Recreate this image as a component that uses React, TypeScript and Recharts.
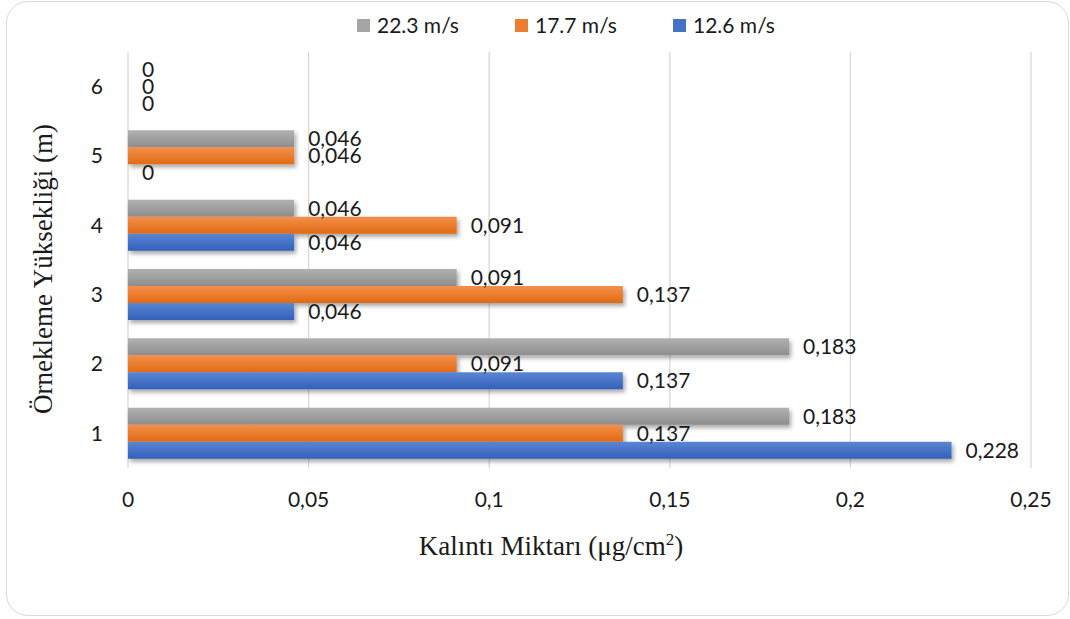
import React from 'react';
import { BarChart, Bar, XAxis, YAxis, CartesianGrid, LabelList } from 'recharts';

const heights = ['6', '5', '4', '3', '2', '1'];
const s223 = [0, 0.046, 0.046, 0.091, 0.183, 0.183];
const s177 = [0, 0.046, 0.091, 0.137, 0.091, 0.137];
const s126 = [0, 0, 0.046, 0.046, 0.137, 0.228];
const xTicks = [0, 0.05, 0.1, 0.15, 0.2, 0.25];

const seriesNames = ['22.3 m/s', '17.7 m/s', '12.6 m/s'];
const legendColors = ['#a5a5a5', '#ed7d31', '#4472c4'];

const data = heights.map((h, i) => ({ h, a: s223[i], b: s177[i], c: s126[i] }));

const comma = (v: any) => String(v).replace('.', ',');
const FONT = 'Lato, "Open Sans", sans-serif';
const SERIF = '"Liberation Serif", "Times New Roman", serif';
const TXT = '#1a1a1a';

const renderLabel = (props: any) => {
  const { x, y, width, height, value } = props;
  const w = Number(value) === 0 ? 0 : Number(width || 0);
  const xx = Number(x) + w + 14;
  const yy = Number(y) + Number(height || 0) / 2;
  return (
    <text x={xx} y={yy} dy="0.36em" textAnchor="start" fontFamily={FONT} fontSize={21} fill={TXT}>
      {comma(value)}
    </text>
  );
};

export default function App() {
  return (
    <div style={{ position: 'absolute', left: 0, top: 0, width: 1070, height: 619, background: '#fff', overflow: 'hidden' }}>
      <div style={{ position: 'absolute', left: 6, top: 1, width: 1061, height: 613, border: '1.5px solid #d9d9d9', borderRadius: 22 }} />
      <div style={{ position: 'absolute', left: 357, top: 12, display: 'flex', fontFamily: FONT, fontSize: 21, color: TXT, lineHeight: '26px' }}>
        {seriesNames.map((n, i) => (
          <div key={n} style={{ width: 158, display: 'flex', alignItems: 'center' }}>
            <span style={{ display: 'inline-block', width: 13, height: 13, background: legendColors[i], marginRight: 7 }} />
            <span>{n}</span>
          </div>
        ))}
      </div>
      <div style={{ position: 'absolute', left: 0, top: 0 }}>
        <BarChart
          width={1070}
          height={619}
          data={data}
          layout="vertical"
          margin={{ top: 52, right: 39, bottom: 121, left: 0 }}
          barSize={17}
          barGap={0}
          barCategoryGap="12%"
        >
          <defs>
            <linearGradient id="gGray" x1="0" y1="0" x2="0" y2="1">
              <stop offset="0%" stopColor="#b1b1b1" />
              <stop offset="100%" stopColor="#8e8e8e" />
            </linearGradient>
            <linearGradient id="gOrange" x1="0" y1="0" x2="0" y2="1">
              <stop offset="0%" stopColor="#f48f4a" />
              <stop offset="100%" stopColor="#e26a14" />
            </linearGradient>
            <linearGradient id="gBlue" x1="0" y1="0" x2="0" y2="1">
              <stop offset="0%" stopColor="#5a86d3" />
              <stop offset="100%" stopColor="#3360bb" />
            </linearGradient>
            <filter id="shadow" x="-10%" y="-50%" width="130%" height="250%">
              <feDropShadow dx="2" dy="3" stdDeviation="2" floodColor="#000" floodOpacity="0.35" />
            </filter>
          </defs>
          <CartesianGrid horizontal={false} stroke="#d9d9d9" strokeWidth={1.3} />
          <XAxis
            type="number"
            domain={[0, 0.25]}
            ticks={xTicks}
            tickFormatter={comma}
            axisLine={false}
            tickLine={false}
            tickSize={0}
            tickMargin={24}
            tick={{ fontFamily: FONT, fontSize: 21, fill: TXT }}
            interval={0}
          />
          <YAxis
            type="category"
            dataKey="h"
            width={128}
            axisLine={false}
            tickLine={false}
            tickSize={0}
            tickMargin={25}
            tick={{ fontFamily: FONT, fontSize: 21, fill: TXT }}
          />
          <Bar dataKey="a" name={seriesNames[0]} fill="url(#gGray)" filter="url(#shadow)" minPointSize={0.01} isAnimationActive={false}>
            <LabelList dataKey="a" content={renderLabel} />
          </Bar>
          <Bar dataKey="b" name={seriesNames[1]} fill="url(#gOrange)" filter="url(#shadow)" minPointSize={0.01} isAnimationActive={false}>
            <LabelList dataKey="b" content={renderLabel} />
          </Bar>
          <Bar dataKey="c" name={seriesNames[2]} fill="url(#gBlue)" filter="url(#shadow)" minPointSize={0.01} isAnimationActive={false}>
            <LabelList dataKey="c" content={renderLabel} />
          </Bar>
        </BarChart>
      </div>
      <div style={{ position: 'absolute', left: 1, width: 1100, top: 530, textAlign: 'center', fontFamily: SERIF, fontSize: 27, color: TXT, lineHeight: '32px' }}>
        Kalıntı Miktarı (μg/cm<sup style={{ fontSize: 17, lineHeight: 0 }}>2</sup>)
      </div>
      <div style={{ position: 'absolute', left: 43, top: 269, transform: 'translate(-50%, -50%) rotate(-90deg)', whiteSpace: 'nowrap', fontFamily: SERIF, fontSize: 27, color: TXT, lineHeight: '32px' }}>
        Örnekleme Yüksekliği (m)
      </div>
    </div>
  );
}
